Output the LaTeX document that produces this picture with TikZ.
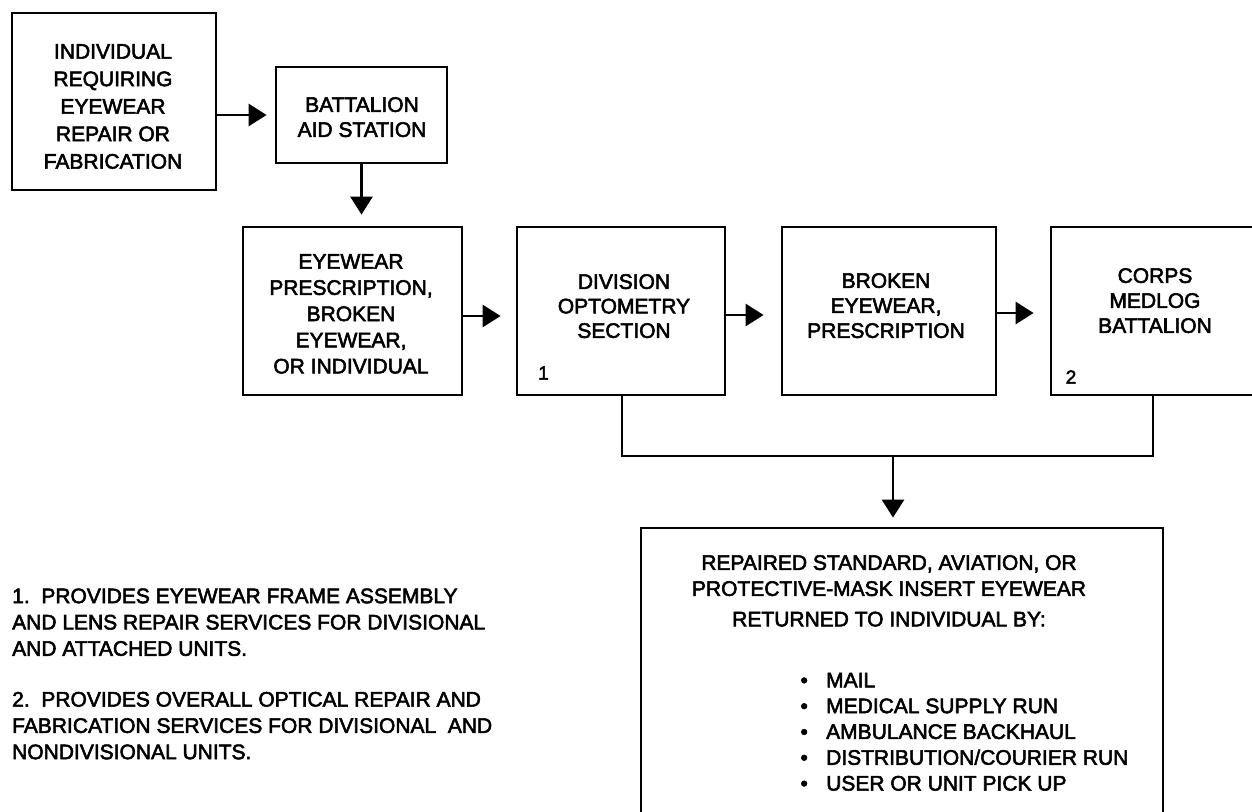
\documentclass[tikz,border=0pt]{standalone}
\usepackage{fontspec}
\setmainfont{Liberation Sans}[FakeBold=2.6]
\usetikzlibrary{arrows.meta}
\newcommand\ftxt[1]{\fontsize{21}{#1}\selectfont}
\begin{document}
\begin{tikzpicture}[x=1pt,y=-1pt,
  box/.style={draw, line width=2.8pt, rectangle, inner sep=0pt},
  txt/.style={align=center, inner sep=0pt, anchor=north},
  lst/.style={align=left, inner sep=0pt, anchor=north west},
  numlbl/.style={inner sep=0pt, font=\fontsize{19}{22}\selectfont},
  conn/.style={line width=2.8pt},
  arr/.style={line width=2.8pt, -{Triangle[length=18pt,width=22pt]}}]
\useasboundingbox (0,0) rectangle (1252,811);
\clip (0,0) rectangle (1252,811);

% boxes
\node[box, minimum width=204pt, minimum height=177pt] (A) at (114,101.5) {};
\node[box, minimum width=171pt, minimum height=96pt] (B) at (361.5,115) {};
\node[box, minimum width=219pt, minimum height=168pt] (C) at (352.5,311) {};
\node[box, minimum width=208pt, minimum height=168pt] (D) at (621,311) {};
\node[box, minimum width=214pt, minimum height=168pt] (E) at (889,311) {};
\node[box, minimum width=209pt, minimum height=168pt] (F) at (1155.5,311) {};
\node[box, minimum width=522pt, minimum height=302pt] (G) at (902,679) {};

% box texts
\node[txt, font=\ftxt{27.5}] (At) at (113,44) {INDIVIDUAL\\REQUIRING\\EYEWEAR\\REPAIR OR\\FABRICATION};
\node[txt, font=\ftxt{25}] (Bt) at (362,97) {BATTALION\\AID STATION};
\node[txt, font=\ftxt{26.2}] (Ct) at (351,254) {EYEWEAR\\PRESCRIPTION,\\BROKEN\\EYEWEAR,\\OR INDIVIDUAL};
\node[txt, font=\ftxt{24.5}] (Dt) at (624,274) {DIVISION\\OPTOMETRY\\SECTION};
\node[txt, font=\ftxt{25}] (Et) at (886,273) {BROKEN\\EYEWEAR,\\PRESCRIPTION};
\node[txt, font=\ftxt{25}] (Ft) at (1155,268) {CORPS\\MEDLOG\\BATTALION};
\node[numlbl] (n1) at (543.5,373) {1};
\node[numlbl] (n2) at (1071,377) {2};

\node[txt, font=\ftxt{26}] (Gt) at (889,555) {REPAIRED STANDARD, AVIATION, OR\\PROTECTIVE-MASK INSERT EYEWEAR\\[4.5pt]RETURNED TO INDIVIDUAL BY:};
\node[lst, font=\ftxt{25.8}] (Gl) at (800.3,672.7) {\makebox[25.7pt][l]{•}MAIL\\
\makebox[25.7pt][l]{•}MEDICAL SUPPLY RUN\\
\makebox[25.7pt][l]{•}AMBULANCE BACKHAUL\\
\makebox[25.7pt][l]{•}DISTRIBUTION/COURIER RUN\\
\makebox[25.7pt][l]{•}USER OR UNIT PICK UP};

% notes
\node[lst, font=\ftxt{26.3}] (notes) at (12,588.3) {1.\ \ PROVIDES EYEWEAR FRAME ASSEMBLY\\
AND LENS REPAIR SERVICES FOR DIVISIONAL\\
AND ATTACHED UNITS.\\[24.5pt]
2.\ \ PROVIDES OVERALL OPTICAL REPAIR AND\\
FABRICATION SERVICES FOR DIVISIONAL\ \ AND\\
NONDIVISIONAL UNITS.};

% connectors
\draw[arr, shorten >=8pt] (A.east |- B.west) -- (B.west);
\draw[arr, shorten >=11pt] (B.south) -- (B.south |- C.north);
\draw[arr, shorten >=15pt] ([yshift=-5pt]C.east) -- ([yshift=-5pt]D.west);
\draw[arr, shorten >=17pt] ([yshift=-4pt]D.east) -- ([yshift=-4pt]E.west);
\draw[arr, shorten >=16pt] ([yshift=-2pt]E.east) -- ([yshift=-2pt]F.west);
\coordinate (j) at (893,456);
\draw[conn] ([xshift=1pt]D.south) |- (j) -| ([xshift=-2.5pt]F.south);
\draw[arr, shorten >=9pt] (j) -- (j |- G.north);
\end{tikzpicture}
\end{document}
